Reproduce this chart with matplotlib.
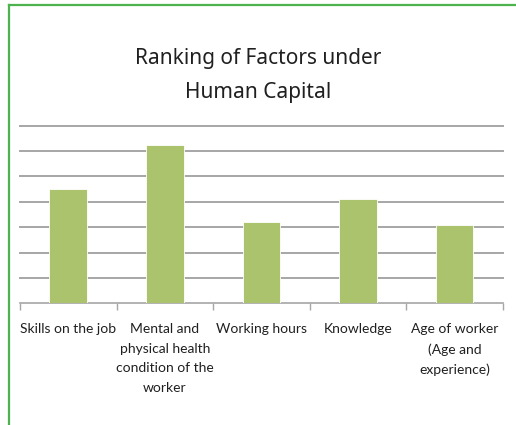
import matplotlib.pyplot as plt
import numpy as np

# chart data
categories = ['Skills on the job',
              'Mental and\nphysical health\ncondition of the\nworker',
              'Working hours',
              'Knowledge',
              'Age of worker\n(Age and\nexperience)']
scores = [4.52, 6.24, 3.21, 4.11, 3.08]

W, H = 516, 425
fig = plt.figure(figsize=(W / 100, H / 100), dpi=100)

# green frame, only the top and left edges show in the crop
fig.add_artist(plt.Line2D([8.5 / W, 8.5 / W], [0, 1 - 4.7 / H], color='#4DB34F', lw=1.6))
fig.add_artist(plt.Line2D([8.5 / W, 1], [1 - 4.7 / H, 1 - 4.7 / H], color='#4DB34F', lw=1.6))

ax = fig.add_axes([20 / W, 1 - 303.3 / H, 482.7 / W, (303.3 - 125.7) / H])

x = np.arange(len(categories))
ax.bar(x, scores, width=0.39, color='#ABC36C', edgecolor='white', linewidth=0.6, zorder=3)

ax.set_xlim(-0.5, len(categories) - 0.5)
ax.set_ylim(0, 7)
ax.set_yticks(np.arange(1, 8))
ax.yaxis.grid(True, color='#A6A6A6', linewidth=1.4)
for gl in ax.get_ygridlines():
    gl.set_clip_on(False)
ax.set_axisbelow(True)
ax.tick_params(axis='y', left=False, labelleft=False)

# category ticks sit on the boundaries, labels in the middle
ax.set_xticks(np.arange(len(categories) + 1) - 0.5)
ax.set_xticklabels([])
ax.tick_params(axis='x', length=5, color='#A6A6A6', width=1)
ax.set_xticks(x, minor=True)
ax.set_xticklabels(categories, minor=True, fontsize=10,
                   family=['Lato', 'DejaVu Sans'],
                   color='#202020', linespacing=1.78, ha='center', va='top')
ax.tick_params(axis='x', which='minor', length=0, pad=14)

for side in ['top', 'right', 'left']:
    ax.spines[side].set_visible(False)
ax.spines['bottom'].set_color('#A6A6A6')
ax.spines['bottom'].set_linewidth(1.2)

fig.text(258 / W, 1 - 75.5 / H, 'Ranking of Factors under\nHuman Capital',
         ha='center', va='center', fontsize=15, color='#202020', linespacing=1.85,
         family=['Noto Sans', 'DejaVu Sans'])

fig.savefig('out.png', dpi=100)
